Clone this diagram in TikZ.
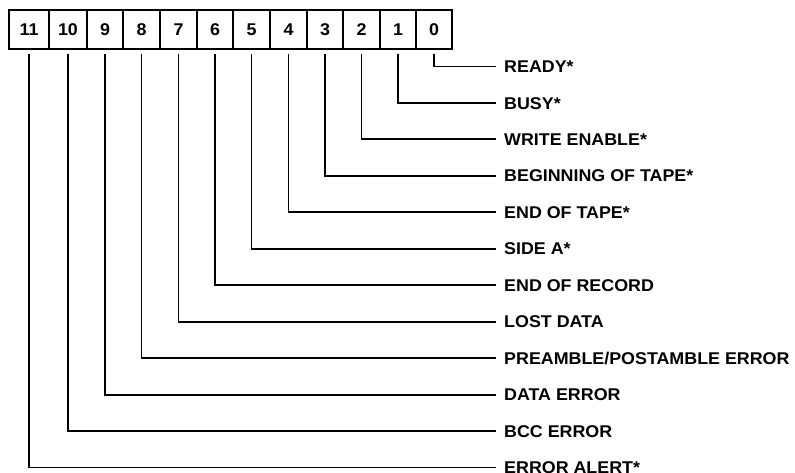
\documentclass[tikz,border=0pt]{standalone}
\usepackage{fontspec}
\setmainfont{Liberation Sans}[FakeStretch=1.05]
\begin{document}
\begin{tikzpicture}[x=1pt,y=-1pt,
  lbl/.style={font=\bfseries\fontsize{17}{20}\selectfont},
  bitbox/.style={lbl,draw,line width=2.1pt,inner sep=0pt,minimum height=39pt},
  sig/.style={lbl,anchor=west,inner xsep=8pt,inner ysep=0pt,text height=12.2pt,text depth=0pt},
  conn/.style={line width=1.9pt}]
\useasboundingbox (0,0) rectangle (795,472);
% register boxes
\foreach \i/\l/\r in {11/9/49,10/49/87,9/87/123,8/123/160,7/160/197,6/197/233,5/233/270,4/270/307,3/307/343,2/343/380,1/380/416,0/416/452}
  \node[bitbox,minimum width={(\r-\l)*1pt}] (b\i) at ({(\l+\r)/2},29.5) {\i};
% signal labels
\node[sig] (t0)  at (496,{66.5+36.45*0})  {READY*};
\node[sig] (t1)  at (496,{66.5+36.45*1})  {BUSY*};
\node[sig] (t2)  at (496,{66.5+36.45*2})  {WRITE ENABLE*};
\node[sig] (t3)  at (496,{66.5+36.45*3})  {BEGINNING OF TAPE*};
\node[sig] (t4)  at (496,{66.5+36.45*4})  {END OF TAPE*};
\node[sig] (t5)  at (496,{66.5+36.45*5})  {SIDE A*};
\node[sig] (t6)  at (496,{66.5+36.45*6})  {END OF RECORD};
\node[sig] (t7)  at (496,{66.5+36.45*7})  {LOST DATA};
\node[sig] (t8)  at (496,{66.5+36.45*8})  {PREAMBLE/POSTAMBLE ERROR};
\node[sig] (t9)  at (496,{66.5+36.45*9})  {DATA ERROR};
\node[sig] (t10) at (496,{66.5+36.45*10}) {BCC ERROR};
\node[sig] (t11) at (496,{66.5+36.45*11}) {ERROR ALERT*};
% connectors
\foreach \i in {0,...,11}
  \draw[conn] ([yshift=-4pt]b\i.south) |- (t\i.west);
\end{tikzpicture}
\end{document}
